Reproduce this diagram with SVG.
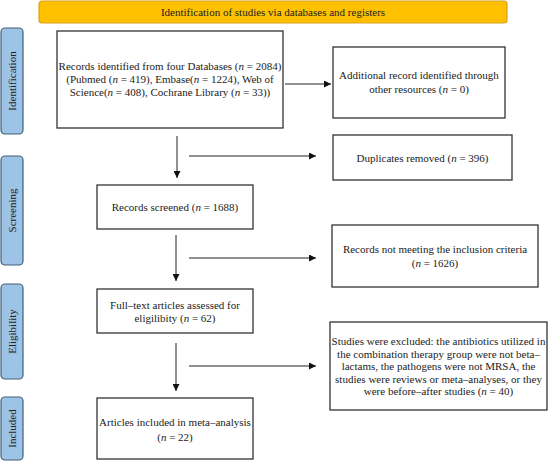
<svg xmlns="http://www.w3.org/2000/svg" width="549" height="461" viewBox="0 0 549 461">
<defs>
<marker id="ah" viewBox="0 0 10 10" refX="10" refY="5" markerWidth="7" markerHeight="7" markerUnits="userSpaceOnUse" orient="auto">
<path d="M0,0 L10,5 L0,10 z" fill="#111"/>
</marker>
<style>
.t{font-family:"Liberation Serif","Times New Roman",serif;font-size:11px;fill:#222;text-anchor:middle}
.i{font-style:italic}
.box{fill:#fff;stroke:#333;stroke-width:1.3}
.side{fill:#9dc3e6;stroke:#41607a;stroke-width:1.2}
.ban{fill:#ffc000;stroke:#d9a21c;stroke-width:1.2}
.c{stroke:#222;stroke-width:1;fill:none;marker-end:url(#ah)}
</style>
</defs>
<rect width="549" height="461" fill="#fff"/>
<g id="banner">
<rect class="ban" x="39" y="1" width="468" height="22" rx="3"/>
<text class="t" x="273" y="15.5">Identification of studies via databases and registers</text>
</g>
<g id="side-identification">
<rect class="side" x="1" y="28" width="22" height="106" rx="4"/>
<text class="t" transform="translate(16,81) rotate(-90)">Identification</text>
</g>
<g id="side-screening">
<rect class="side" x="1" y="156" width="22" height="109" rx="4"/>
<text class="t" transform="translate(16,210.5) rotate(-90)">Screening</text>
</g>
<g id="side-eligibility">
<rect class="side" x="1" y="284" width="22" height="95" rx="4"/>
<text class="t" transform="translate(16,331.5) rotate(-90)">Eligibility</text>
</g>
<g id="side-included">
<rect class="side" x="1" y="397" width="22" height="63" rx="4"/>
<text class="t" transform="translate(16,428.5) rotate(-90)">Included</text>
</g>
<g id="records">
<rect class="box" x="57" y="31" width="226" height="97"/>
<text class="t" x="170" y="70">Records identified from four Databases (<tspan class="i">n</tspan> = 2084)</text>
<text class="t" x="170" y="83">(Pubmed (<tspan class="i">n</tspan> = 419), Embase(<tspan class="i">n</tspan> = 1224), Web of</text>
<text class="t" x="170" y="96">Science(<tspan class="i">n</tspan> = 408), Cochrane Library (<tspan class="i">n</tspan> = 33))</text>
</g>
<g id="additional">
<rect class="box" x="333" y="47" width="172" height="71"/>
<text class="t" x="419" y="79">Additional record identified through</text>
<text class="t" x="419" y="93">other resources (<tspan class="i">n</tspan> = 0)</text>
</g>
<g id="duplicates">
<rect class="box" x="333" y="135" width="179" height="45"/>
<text class="t" x="422.5" y="161.5">Duplicates removed (<tspan class="i">n</tspan> = 396)</text>
</g>
<g id="screened">
<rect class="box" x="97" y="185" width="156" height="44"/>
<text class="t" x="175" y="211">Records screened (<tspan class="i">n</tspan> = 1688)</text>
</g>
<g id="notmeeting">
<rect class="box" x="332" y="225" width="206" height="62"/>
<text class="t" x="435" y="253">Records not meeting the inclusion criteria</text>
<text class="t" x="435" y="267">(<tspan class="i">n</tspan> = 1626)</text>
</g>
<g id="fulltext">
<rect class="box" x="97" y="289" width="156" height="44"/>
<text class="t" x="175" y="309">Full–text articles assessed for</text>
<text class="t" x="175" y="322">eligilibity (<tspan class="i">n</tspan> = 62)</text>
</g>
<g id="excluded">
<rect class="box" x="330" y="322" width="217" height="88"/>
<text class="t" x="438.5" y="345">Studies were excluded: the antibiotics utilized in</text>
<text class="t" x="438.5" y="357.5">the combination therapy group were not beta–</text>
<text class="t" x="438.5" y="370">lactams, the pathogens were not MRSA, the</text>
<text class="t" x="438.5" y="382.5">studies were reviews or meta–analyses, or they</text>
<text class="t" x="438.5" y="395">were before–after studies (<tspan class="i">n</tspan> = 40)</text>
</g>
<g id="included">
<rect class="box" x="97" y="398" width="156" height="61"/>
<text class="t" x="175" y="426">Articles included in meta–analysis</text>
<text class="t" x="175" y="441">(<tspan class="i">n</tspan> = 22)</text>
</g>
<g id="connectors">
<line class="c" x1="285" y1="84" x2="331" y2="84"/>
<line class="c" x1="177" y1="136" x2="177" y2="178"/>
<line class="c" x1="189" y1="156" x2="316" y2="156"/>
<line class="c" x1="176" y1="235" x2="176" y2="281"/>
<line class="c" x1="189" y1="258" x2="316" y2="258"/>
<line class="c" x1="176" y1="343" x2="176" y2="391"/>
<line class="c" x1="189" y1="366" x2="316" y2="366"/>
</g>
</svg>
